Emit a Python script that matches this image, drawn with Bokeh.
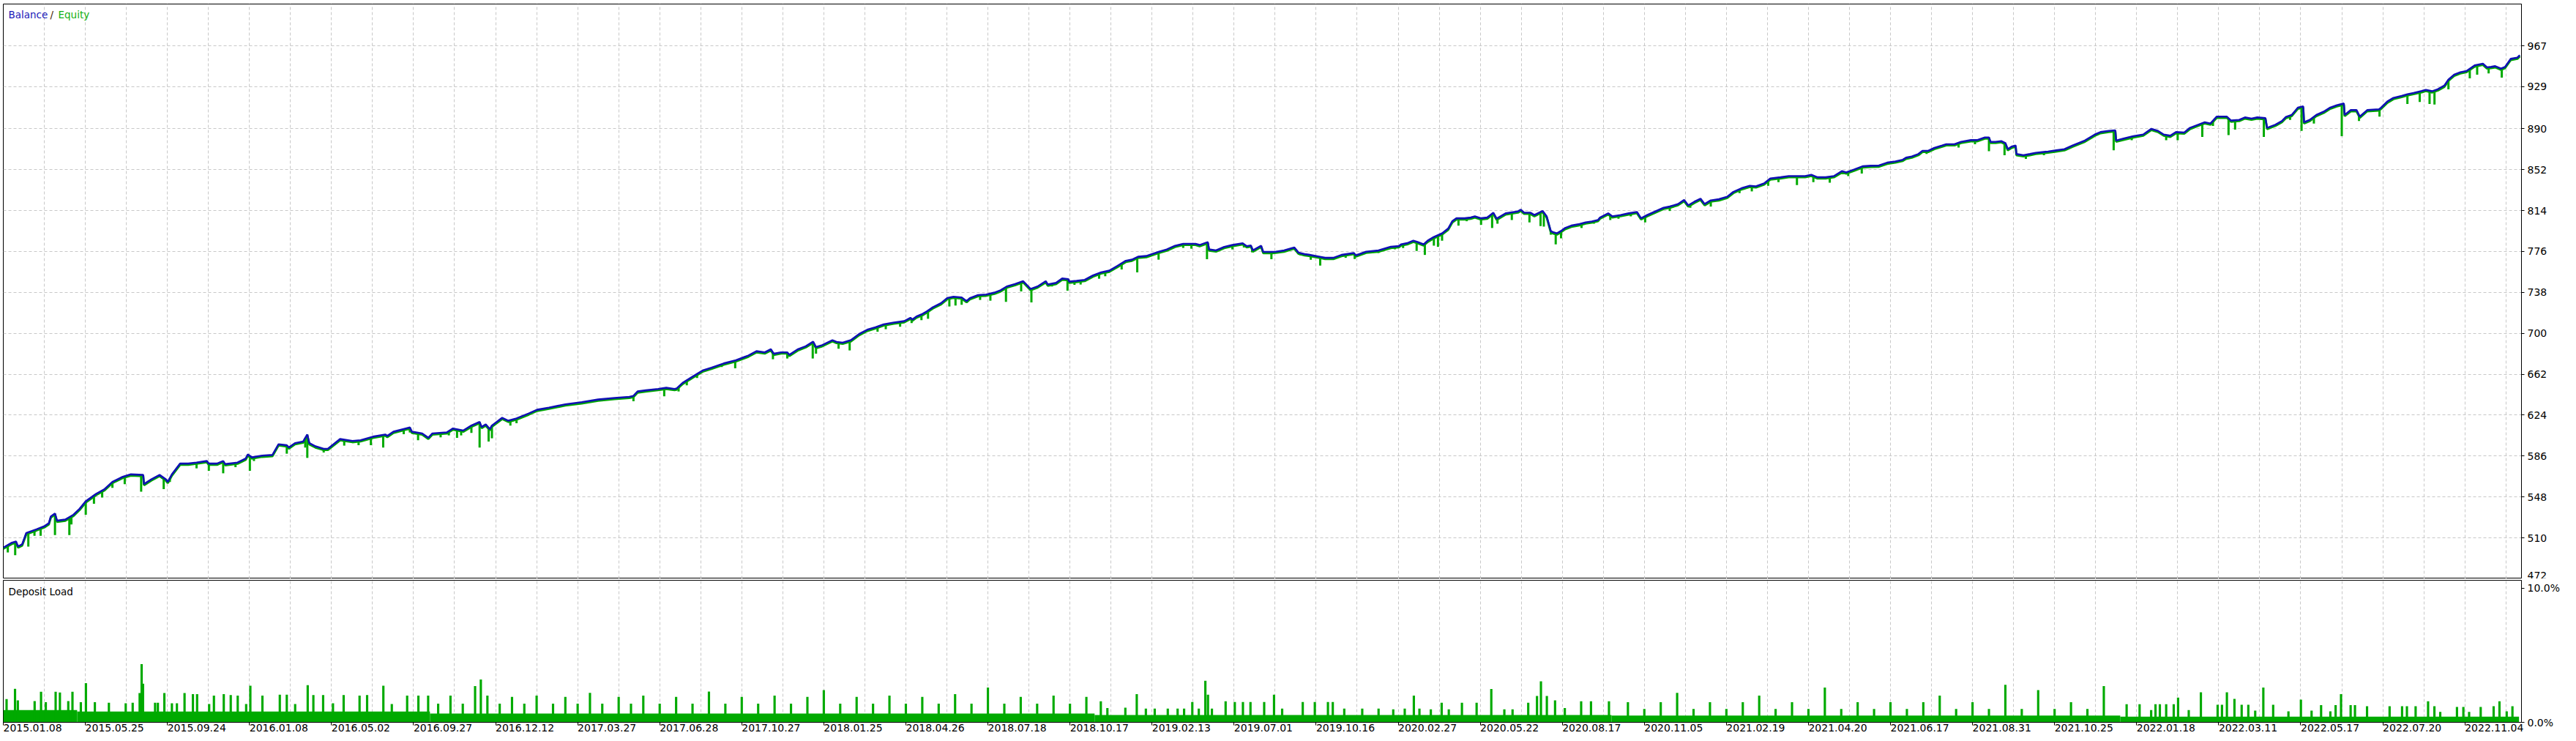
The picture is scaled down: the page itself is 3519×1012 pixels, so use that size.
import numpy as np
from bokeh.plotting import figure
from bokeh.models import FixedTicker, Label, Range1d, Grid, PrintfTickFormatter
from bokeh.layouts import column
from bokeh.embed import file_html
from bokeh.resources import INLINE

# ---------------- data ----------------
x_tick_labels = ["2015.01.08", "2015.05.25", "2015.09.24", "2016.01.08", "2016.05.02", "2016.09.27",
                 "2016.12.12", "2017.03.27", "2017.06.28", "2017.10.27", "2018.01.25", "2018.04.26",
                 "2018.07.18", "2018.10.17", "2019.02.13", "2019.07.01", "2019.10.16", "2020.02.27",
                 "2020.05.22", "2020.08.17", "2020.11.05", "2021.02.19", "2021.04.20", "2021.06.17",
                 "2021.08.31", "2021.10.25", "2022.01.18", "2022.03.11", "2022.05.17", "2022.07.20",
                 "2022.11.04"]
y_tick_values = [472, 510, 548, 586, 624, 662, 700, 738, 776, 814, 852, 890, 929, 967]
load_tick_values = [0, 10]

# balance curve: position (in date-tick units) and value
bal_t = [0.0, 0.105, 0.155, 0.18, 0.23, 0.28, 0.405, 0.505, 0.555, 0.58, 0.63, 0.655, 0.755, 0.855, 0.93,
         1.005, 1.13, 1.23, 1.33, 1.455, 1.555, 1.705, 1.715, 1.805, 1.905, 1.98, 2.005, 2.055, 2.155, 2.255,
         2.355, 2.48, 2.505, 2.605, 2.68, 2.705, 2.855, 2.955, 2.98, 3.03, 3.155, 3.28, 3.355, 3.455, 3.48,
         3.555, 3.655, 3.705, 3.73, 3.805, 3.905, 3.955, 4.105, 4.255, 4.355, 4.505, 4.655, 4.68, 4.755,
         4.905, 4.955, 4.98, 5.105, 5.18, 5.23, 5.405, 5.48, 5.605, 5.705, 5.805, 5.83, 5.88, 5.93, 5.955,
         6.08, 6.155, 6.255, 6.405, 6.505, 6.65, 6.85, 7.05, 7.25, 7.45,
         7.63, 7.68, 7.73, 7.83, 7.98, 8.08, 8.18, 8.205, 8.28, 8.405, 8.53, 8.63, 8.78, 8.93, 9.08, 9.18,
         9.28, 9.355, 9.39, 9.48, 9.555, 9.58, 9.68, 9.78, 9.87, 9.905, 9.98, 10.105, 10.155, 10.23, 10.33,
         10.43, 10.53, 10.63, 10.73, 10.855, 10.98, 11.055, 11.08, 11.13, 11.205, 11.255, 11.33, 11.43,
         11.505, 11.58, 11.68, 11.74, 11.78, 11.88, 11.98, 12.08, 12.155, 12.23, 12.33, 12.43, 12.52,
         12.605, 12.705, 12.73, 12.83, 12.905, 12.98, 12.99, 13.08, 13.18, 13.28, 13.38, 13.48, 13.58,
         13.68, 13.755, 13.83, 13.93, 14.08, 14.18, 14.28, 14.38, 14.53, 14.58, 14.68, 14.695, 14.78,
         14.88, 14.98, 15.105, 15.155, 15.205, 15.23, 15.33, 15.355, 15.47,
         15.51, 15.61, 15.71, 15.735, 15.785, 15.86, 15.91, 16.035, 16.11, 16.21, 16.31, 16.46, 16.485,
         16.61, 16.76, 16.91, 17.01, 17.035, 17.11, 17.185, 17.235, 17.31, 17.36, 17.435, 17.535, 17.61,
         17.66, 17.71, 17.81, 17.885, 17.935, 18.01, 18.085, 18.16, 18.2, 18.31, 18.46, 18.495, 18.535,
         18.61, 18.66, 18.76, 18.81, 18.86, 18.885, 18.935, 18.985, 19.035, 19.11, 19.21, 19.285, 19.36,
         19.435, 19.46, 19.56, 19.61, 19.71, 19.81, 19.91, 19.96, 20.035, 20.135, 20.235, 20.31, 20.41,
         20.485, 20.535, 20.61, 20.685, 20.735, 20.81, 20.91, 21.01, 21.085, 21.185, 21.285, 21.36, 21.46,
         21.535, 21.66, 21.76, 21.86, 21.96, 22.035, 22.11, 22.21, 22.31, 22.41, 22.46, 22.56, 22.66,
         22.76, 22.86, 22.96, 23.06, 23.15,
         23.19, 23.26, 23.34, 23.39, 23.46, 23.535, 23.63, 23.68, 23.78, 23.86, 23.98, 24.055, 24.15, 24.2,
         24.22, 24.28, 24.35, 24.4, 24.43, 24.475, 24.525, 24.535, 24.62, 24.7, 24.77, 24.92, 25.02, 25.12,
         25.22, 25.37, 25.49, 25.56, 25.66, 25.74, 25.75, 25.84, 25.96, 26.08, 26.18, 26.26, 26.33, 26.41,
         26.48, 26.58, 26.65, 26.75, 26.83, 26.9, 26.975, 27.1, 27.15, 27.25, 27.32, 27.4, 27.47, 27.57,
         27.59, 27.69, 27.77, 27.82, 27.89, 27.965, 28.03, 28.04, 28.11, 28.19, 28.29, 28.36, 28.44,
         28.525, 28.535, 28.61, 28.68, 28.72, 28.81, 28.955, 28.98, 29.055, 29.13, 29.23, 29.3, 29.375,
         29.475, 29.525, 29.6, 29.67, 29.75, 29.8, 29.87, 29.945, 30.02, 30.12, 30.22, 30.27, 30.32, 30.37,
         30.44, 30.49, 30.56, 30.64, 30.67]
bal_v = [501.0, 505.5, 506.6, 502.0, 504.0, 514.5, 518.0, 521.0, 523.6, 530.0, 532.7, 526.0, 527.0, 531.5, 537.0,
         544.0, 550.8, 555.0, 562.0, 566.7, 569.0, 568.5, 560.0, 564.4, 568.5, 564.4, 562.0, 569.0, 579.0, 579.0,
         580.0, 581.4, 579.0, 579.0, 581.4, 578.5, 580.0, 583.7, 587.5, 584.8, 586.4, 587.0, 597.0, 596.0, 594.0,
         598.0, 599.5, 606.0, 598.0, 595.0, 592.7, 592.7, 601.8, 600.0, 600.7, 604.0, 606.0, 604.7, 608.6,
         611.6, 612.5, 608.6, 607.0, 603.0, 607.0, 608.0, 611.6, 609.7, 614.3, 617.7, 613.0, 615.4, 611.0, 614.3,
         621.5, 618.8, 621.0, 625.6, 629.0, 631.0, 634.0, 636.0, 638.5, 640.0,
         641.0, 641.9, 646.0, 647.0, 648.3, 649.4, 648.3, 648.7, 654.0, 660.0, 665.7, 668.0, 672.0, 675.0, 679.3, 683.4,
         682.3, 685.2, 681.0, 682.3, 682.3, 680.0, 685.0, 688.0, 692.2, 687.2, 689.0, 693.6, 692.0, 691.3, 693.6,
         699.3, 703.3, 705.6, 708.3, 710.0, 711.3, 714.4, 712.8, 715.6, 718.0, 720.3, 724.2, 728.0,
         732.8, 734.0, 733.3, 729.9, 732.6, 735.5, 736.0, 737.8, 740.0, 743.5, 745.7, 748.4, 741.2,
         743.5, 748.4, 745.3, 746.8, 750.9, 750.3, 748.0, 748.7, 749.6, 753.7, 756.6, 758.2, 762.7,
         767.3, 768.4, 771.1, 771.8, 775.6, 777.9, 781.3, 783.1, 783.1, 782.0, 784.7, 777.9, 777.0,
         780.2, 782.0, 783.6, 780.9, 781.6, 777.0, 781.3, 775.6, 775.6,
         775.8, 776.9, 779.2, 779.6, 775.0, 773.5, 773.0, 771.2, 770.1, 770.1, 772.8, 774.6, 772.4,
         775.8, 776.9, 780.3, 781.0, 782.6, 783.7, 786.0, 784.8, 782.6, 786.0, 789.4, 792.8, 797.3,
         804.1, 806.8, 806.8, 807.5, 808.6, 806.8, 807.5, 812.0, 806.4, 811.4, 813.2, 814.8, 812.0,
         812.0, 809.8, 813.6, 808.6, 795.0, 793.9, 792.8, 795.0, 797.8, 800.0, 801.4, 803.0, 803.9,
         805.2, 807.5, 811.4, 808.6, 809.8, 811.4, 812.7, 806.8, 809.8, 813.2, 816.6, 817.7, 820.0,
         823.8, 818.8, 822.2, 825.0, 820.0, 823.4, 824.5, 826.8, 831.3, 834.7, 837.0, 836.5, 839.2,
         843.8, 844.9, 846.0, 846.0, 846.0, 847.2, 844.9, 844.9, 846.0, 850.6, 849.4, 852.2, 855.1,
         855.6, 855.8, 858.5, 859.6, 861.2,
         863.1, 864.2, 866.5, 869.5, 869.5, 872.2, 874.4, 875.6, 875.6, 877.8, 879.4, 879.4, 881.9, 881.9,
         877.8, 877.8, 878.5, 876.7, 871.0, 873.3, 874.4, 866.5, 865.4, 866.5, 867.6, 868.8, 869.9, 871.0,
         874.4, 879.0, 884.6, 886.9, 888.0, 888.5, 879.0, 880.8, 883.0, 884.6, 889.9, 888.0, 884.6, 883.5,
         886.9, 886.5, 890.8, 893.7, 896.0, 894.8, 901.2, 901.2, 897.6, 898.2, 900.5, 899.4, 900.5, 899.8,
         890.8, 893.7, 897.1, 901.0, 902.8, 909.6, 910.7, 896.0, 898.2, 902.8, 906.2, 909.6, 911.8,
         913.4, 902.8, 907.3, 907.3, 901.2, 907.3, 908.0, 909.6, 915.2, 918.6, 920.5, 922.0, 923.2,
         925.0, 926.1, 924.8, 926.6, 930.0, 935.6, 940.2, 942.4, 943.6, 948.8, 950.4, 947.0, 947.4, 948.1,
         945.8, 947.4, 954.9, 956.0, 958.3]

# equity drawdowns below balance: position and lowest equity value
eq_t = [0.055, 0.145, 0.305, 0.38, 0.455, 0.63, 0.805, 0.83, 1.005, 1.105, 1.205, 1.33, 1.48, 1.68, 1.955,
        2.03, 2.355, 2.505, 2.68, 2.83, 3.005, 3.055, 3.455, 3.68, 3.705, 3.905, 4.155, 4.33, 4.48, 4.63,
        4.88, 4.955, 5.055, 5.33, 5.43, 5.53, 5.58, 5.705, 5.805, 5.915, 5.955, 6.18, 6.255,
        7.68, 8.055, 8.23, 8.33, 8.455, 8.755, 8.92, 9.38, 9.555, 9.865, 9.905, 10.18, 10.315, 10.655,
        10.755, 10.93, 11.07, 11.19, 11.27, 11.53, 11.605, 11.68, 11.905, 12.03, 12.22, 12.405, 12.53,
        12.78, 12.97, 13.055, 13.13, 13.355, 13.43, 13.63, 13.82, 14.08, 14.38, 14.48, 14.67, 14.83,
        14.98, 15.12, 15.22, 15.455,
        15.81, 15.935, 16.05, 16.36, 16.47, 16.76, 16.96, 17.06, 17.225, 17.325, 17.435, 17.485, 17.535,
        17.735, 17.835, 18.01, 18.145, 18.21, 18.385, 18.6, 18.735, 18.775, 18.86, 18.92, 18.985, 19.235,
        19.385, 19.585, 19.685, 19.835, 20.01, 20.31, 20.56, 20.81, 21.16, 21.31, 21.51, 21.635, 21.86,
        22.06, 22.26, 22.485, 22.65,
        23.44, 23.83, 24.03, 24.2, 24.39, 24.65, 24.87, 25.72, 25.94, 26.36, 26.5, 26.8, 26.93, 27.12,
        27.2, 27.55, 27.87, 28.01, 28.16, 28.5, 28.71, 28.96, 29.3, 29.45, 29.57, 29.63, 29.8, 30.06,
        30.15, 30.29, 30.45]
eq_low = [496.4, 494.0, 502.0, 512.0, 512.0, 512.7, 512.7, 522.5, 531.5, 541.7, 547.4, 556.5, 559.9, 553.0, 555.3,
          562.0, 574.6, 572.3, 570.0, 575.7, 572.3, 581.4, 588.2, 593.9, 584.3, 589.3, 595.7, 596.1, 596.1, 593.9,
          606.3, 607.9, 600.7, 603.4, 605.2, 602.9, 605.2, 607.5, 593.9, 599.5, 602.5, 614.3, 616.5,
          636.9, 641.5, 646.0, 651.7, 658.5, 668.7, 667.5, 675.9, 676.6, 676.6, 681.1, 685.7, 684.1, 701.5,
          703.8, 706.1, 709.5, 712.2, 713.5, 724.9, 725.8, 726.5, 731.0, 730.3, 729.2, 738.9, 728.7,
          743.5, 739.6, 745.0, 745.3, 750.7, 753.0, 759.3, 756.6, 768.4, 779.3, 778.6, 768.8, 777.5,
          777.9, 779.7, 775.2, 768.8,
          772.4, 768.3, 762.9, 770.1, 769.0, 774.6, 778.0, 779.2, 776.5, 772.8, 781.4, 780.3, 786.0,
          800.0, 804.1, 800.7, 797.8, 801.8, 805.2, 803.0, 799.6, 799.1, 791.6, 782.6, 788.2, 797.8,
          801.8, 805.2, 806.4, 808.6, 803.0, 813.6, 816.6, 817.7, 830.2, 831.8, 837.0, 840.4, 837.7,
          840.4, 839.9, 846.0, 848.3,
          866.5, 872.6, 875.6, 869.2, 865.4, 862.0, 865.4, 869.9, 879.4, 879.4, 879.4, 882.4, 892.6, 884.0,
          889.2, 882.4, 898.2, 888.0, 894.8, 883.0, 897.1, 901.2, 913.0, 914.8, 913.0, 912.5, 926.6, 936.8,
          940.2, 941.3, 937.5]

# deposit load (%): base level segments and individual bars
base_start = [0.0, 0.9, 5.2, 13.3, 19.6, 25.8]
base_end = [0.9, 5.2, 13.3, 19.6, 25.8, 30.66]
base_level = [0.91, 0.8, 0.65, 0.55, 0.5, 0.42]

load_t = [0.04, 0.143, 0.177, 0.382, 0.46, 0.518, 0.638, 0.69, 0.792, 0.843, 0.945, 1.007, 1.116, 1.287,
          1.492, 1.577, 1.662, 1.686, 1.703, 1.85, 1.884, 1.963, 2.055, 2.116, 2.209, 2.311, 2.362, 2.509,
          2.567, 2.687, 2.772, 2.857, 2.96, 3.011, 3.158, 3.37, 3.455, 3.557, 3.71, 3.779, 3.898, 4.018,
          4.148, 4.342, 4.434, 4.632, 4.735, 4.922, 5.059, 5.178,
          5.3, 5.45, 5.6, 5.75, 5.82, 5.9, 6.05, 6.2, 6.35, 6.5, 6.7, 6.85, 7.0, 7.15, 7.3, 7.5, 7.65, 7.8,
          8.0, 8.2, 8.4, 8.6, 8.8, 9.0, 9.2, 9.4, 9.6, 9.8, 10.0, 10.2, 10.4, 10.6, 10.8, 11.0, 11.2, 11.4,
          11.6, 11.8, 12.0, 12.2, 12.4, 12.6, 12.8, 13.0, 13.2,
          13.376, 13.456, 13.675, 13.814, 13.925, 14.033, 14.192, 14.312, 14.391, 14.491, 14.57, 14.65,
          14.682, 14.73, 14.897, 15.009, 15.108, 15.2, 15.367, 15.487, 15.586, 15.837, 15.984, 16.144,
          16.203, 16.343, 16.562, 16.761, 16.94, 17.08, 17.191, 17.259, 17.398, 17.53, 17.617, 17.777,
          17.956, 18.135, 18.294, 18.394, 18.585, 18.692, 18.74, 18.812, 18.912, 19.031, 19.23, 19.35,
          19.569,
          19.8, 20.0, 20.2, 20.4, 20.6, 20.8, 21.0, 21.2, 21.4, 21.6, 21.8, 22.0, 22.2, 22.4, 22.6, 22.8,
          23.0, 23.2, 23.4, 23.6, 23.8, 24.0, 24.2, 24.4, 24.6, 24.8, 25.0, 25.2, 25.4, 25.6,
          25.878, 26.036, 26.177, 26.23, 26.283, 26.36, 26.452, 26.505, 26.635, 26.783, 26.987, 27.04,
          27.1, 27.192, 27.28, 27.361, 27.445, 27.544, 27.664, 27.85, 28.002, 28.132, 28.248, 28.361,
          28.425, 28.491, 28.608, 28.661, 28.808, 29.083, 29.235, 29.294, 29.4, 29.552, 29.629, 29.7,
          29.904, 29.982, 30.052, 30.193, 30.351, 30.422, 30.51, 30.58]
load_v = [1.73, 2.5, 1.64, 1.58, 2.28, 1.5, 2.28, 2.22, 1.58, 2.28, 1.5, 2.93, 1.5, 1.46,
          1.42, 1.46, 2.19, 4.34, 2.88, 1.46, 1.46, 2.19, 1.42, 1.42, 2.19, 2.1, 2.1, 1.37,
          2.0, 2.1, 2.04, 2.0, 1.37, 2.73, 2.0, 2.06, 2.06, 1.37, 2.77, 2.04, 2.04, 1.42,
          2.04, 2.0, 2.04, 2.73, 1.37, 2.0, 2.0, 2.0,
          1.4, 2.0, 1.4, 2.7, 3.2, 2.0, 1.4, 1.9, 1.4, 2.0, 1.4, 1.9, 1.4, 2.2, 1.4, 1.9, 1.4, 2.0,
          1.4, 1.9, 1.4, 2.3, 1.4, 1.9, 1.4, 2.0, 1.4, 1.9, 2.4, 1.4, 1.9, 1.4, 2.0, 1.4, 1.9, 1.4,
          2.1, 1.4, 2.6, 1.4, 1.9, 1.4, 2.0, 1.4, 1.9,
          1.57, 1.06, 1.09, 2.11, 1.02, 1.02, 1.02, 1.02, 1.02, 1.51, 1.02, 3.1,
          2.06, 1.02, 1.57, 1.51, 1.51, 1.51, 1.51, 2.06, 1.02, 1.51, 1.51, 1.51,
          1.51, 1.02, 1.02, 1.02, 0.97, 1.02, 2.0, 1.02, 0.97, 1.46, 0.97, 1.46,
          1.46, 2.48, 0.97, 0.97, 1.46, 1.97, 3.06, 1.97, 1.64, 1.06, 1.57, 1.57,
          1.57,
          1.5, 1.0, 1.5, 2.2, 1.0, 1.5, 1.0, 1.5, 2.0, 1.0, 1.5, 1.0, 2.6, 1.0, 1.5, 1.0,
          1.5, 1.0, 1.5, 2.0, 1.0, 1.5, 1.0, 2.8, 1.0, 2.4, 1.0, 1.5, 1.0, 2.7,
          1.35, 1.35, 0.91, 1.35, 1.35, 1.35, 1.35, 1.84, 0.91, 2.24, 1.31, 1.31,
          2.24, 1.75, 1.31, 1.31, 0.87, 2.6, 1.31, 0.82, 1.69, 0.87, 1.28, 0.82,
          1.28, 2.11, 1.28, 1.28, 1.2, 1.2, 1.2, 1.2, 1.2, 1.57, 1.2, 0.78,
          1.15, 1.15, 0.78, 1.15, 1.2, 1.57, 0.82, 1.2]

# ---------------- styling ----------------
FONT = "DejaVu Sans"
BAL_COLOR = "#1010B4"
EQ_COLOR = "#00AA00"
GRID_COLOR = "#c8c8c8"
FRAME_W = 3440
MAIN_H = 785
LOAD_H = 194
X_END = 30.69
Y_LO, Y_HI = 472, 1005.8

grid_ticks = [i * 0.5 for i in range(62)]


def style_axis(ax):
    ax.axis_line_color = "black"
    ax.major_tick_line_color = "black"
    ax.minor_tick_line_color = None
    ax.major_tick_out = 4
    ax.major_tick_in = 0
    ax.major_label_text_font = FONT
    ax.major_label_text_font_size = "14px"
    ax.major_label_text_color = "black"
    ax.major_label_standoff = 4


# ---------------- main panel ----------------
p = figure(frame_width=FRAME_W, frame_height=MAIN_H, x_range=Range1d(0, X_END),
           y_range=Range1d(Y_LO, Y_HI), output_backend="svg", toolbar_location=None,
           y_axis_location="right", x_axis_location=None,
           min_border_left=4, min_border_top=5, min_border_bottom=0, min_border_right=5)
# the equity trace sits a hair under the balance trace: draw it on a range nudged by ~1.5 px
p.extra_y_ranges = {"eq": Range1d(Y_LO + 1.1, Y_HI + 1.1)}
p.background_fill_color = "white"
p.border_fill_color = "white"
p.outline_line_color = "black"
p.outline_line_width = 1
p.grid.visible = False
p.add_layout(Grid(dimension=0, ticker=FixedTicker(ticks=grid_ticks), grid_line_color=GRID_COLOR,
                  grid_line_dash="4 3", grid_line_width=1))
p.add_layout(Grid(dimension=1, ticker=FixedTicker(ticks=y_tick_values), grid_line_color=GRID_COLOR,
                  grid_line_dash="4 3", grid_line_width=1))
p.yaxis.ticker = FixedTicker(ticks=y_tick_values)
style_axis(p.yaxis[0])

bal_at_eq = np.interp(eq_t, bal_t, bal_v)
p.line(bal_t, bal_v, line_color=EQ_COLOR, line_width=3.0, y_range_name="eq")
p.segment(x0=eq_t, x1=eq_t, y0=bal_at_eq, y1=eq_low, line_color=EQ_COLOR, line_width=3)
p.line(bal_t, bal_v, line_color=BAL_COLOR, line_width=2.6)

ty = MAIN_H - 14
p.add_layout(Label(x=7, y=ty, x_units="screen", y_units="screen", text="Balance", text_color="#1818B8",
                   text_font=FONT, text_font_size="13.5px", text_baseline="middle"))
p.add_layout(Label(x=64, y=ty, x_units="screen", y_units="screen", text="/", text_color="#402000",
                   text_font=FONT, text_font_size="13.5px", text_baseline="middle"))
p.add_layout(Label(x=75, y=ty, x_units="screen", y_units="screen", text="Equity", text_color="#10B010",
                   text_font=FONT, text_font_size="13.5px", text_baseline="middle"))

# ---------------- deposit load panel ----------------
d = figure(frame_width=FRAME_W, frame_height=LOAD_H, x_range=p.x_range, y_range=Range1d(0, 10.6),
           output_backend="svg", toolbar_location=None, y_axis_location="right",
           min_border_left=4, min_border_top=2, min_border_bottom=0, min_border_right=5)
d.background_fill_color = "white"
d.border_fill_color = "white"
d.outline_line_color = "black"
d.outline_line_width = 1
d.grid.visible = False
d.add_layout(Grid(dimension=0, ticker=FixedTicker(ticks=grid_ticks), grid_line_color=GRID_COLOR,
                  grid_line_dash="4 3", grid_line_width=1))
d.yaxis.ticker = FixedTicker(ticks=load_tick_values)
d.yaxis.formatter = PrintfTickFormatter(format="%.1f%%")
style_axis(d.yaxis[0])
d.xaxis.ticker = FixedTicker(ticks=list(range(len(x_tick_labels))))
d.xaxis.major_label_overrides = {i: s for i, s in enumerate(x_tick_labels)}
style_axis(d.xaxis[0])
# a tiny negative angle makes the date labels start at their tick, as in the reference
d.xaxis.major_label_orientation = -0.0001
d.xaxis.major_label_standoff = 3

d.quad(left=base_start, right=base_end, bottom=0, top=base_level, fill_color=EQ_COLOR, line_color=None)
d.vbar(x=load_t, width=0.028, bottom=0, top=load_v, fill_color=EQ_COLOR, line_color=None)

d.add_layout(Label(x=7, y=LOAD_H - 15, x_units="screen", y_units="screen", text="Deposit Load",
                   text_color="black", text_font=FONT, text_font_size="13.5px", text_baseline="middle"))

layout = column(p, d, spacing=0)
open("out.html", "w").write(file_html(layout, INLINE))
